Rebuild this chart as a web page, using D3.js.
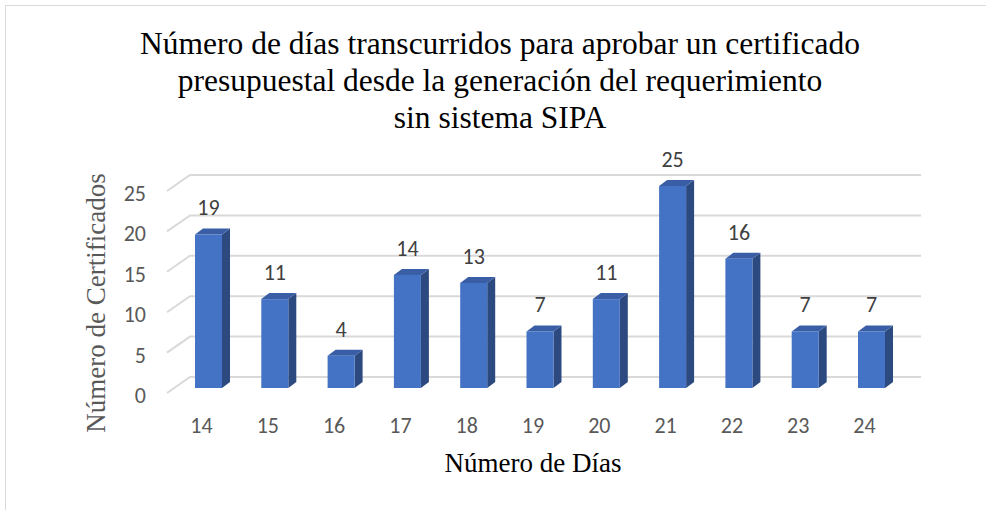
<!DOCTYPE html>
<html>
<head>
<meta charset="utf-8">
<script src="https://cdnjs.cloudflare.com/ajax/libs/d3/7.8.5/d3.min.js"></script>
<style>
  html, body { margin: 0; padding: 0; background: #fff; }
  svg { display: block; }
</style>
</head>
<body>
<svg id="chart"></svg>
<script>
var categories = ["14", "15", "16", "17", "18", "19", "20", "21", "22", "23", "24"];
var values = [19, 11, 4, 14, 13, 7, 11, 25, 16, 7, 7];
var yTicks = [0, 5, 10, 15, 20, 25];
var titleLines = [
    "Número de días transcurridos para aprobar un certificado",
    "presupuestal desde la generación del requerimiento",
    "sin sistema SIPA"
];

var W = 986, H = 510;
var svg = d3.select("#chart").attr("width", W).attr("height", H);

var sansFont = "Carlito, 'Open Sans', 'Liberation Sans', sans-serif";
var serifFont = "'Liberation Serif', 'Times New Roman', serif";

// chart frame (only left and top edges are in view)
svg.append("path")
    .attr("d", "M5.5," + H + "V5.5H" + W)
    .attr("fill", "none")
    .attr("stroke", "#d9d9d9")
    .attr("stroke-width", 1);

// back wall scale
var y = d3.scaleLinear().domain([0, 25]).range([377, 175]);
var x = d3.scalePoint().domain(categories).range([208.5, 871.5]);

var wallLeft = 190, wallRight = 921;
var floorDx = -23, floorDy = 16;   // back wall -> front edge
var barW = 27, sideDx = 8, sideDy = -6, barOffset = 11;

// gridlines
var grid = svg.append("g");
yTicks.forEach(function (t) {
    grid.append("path")
        .attr("d", "M" + (wallLeft + floorDx) + "," + (y(t) + floorDy) +
            "L" + wallLeft + "," + y(t) + "H" + wallRight)
        .attr("fill", "none")
        .attr("stroke", "#d9d9d9")
        .attr("stroke-width", 2);
});

// y tick labels
svg.selectAll(".ytick")
    .data(yTicks)
    .enter().append("text")
    .attr("class", "ytick")
    .attr("x", 146)
    .attr("y", function (d) { return y(d) + floorDy + 10; })
    .attr("text-anchor", "end")
    .attr("font-family", sansFont)
    .attr("font-size", 22)
    .attr("fill", "#595959")
    .text(function (d) { return d; });

// bars
var bars = svg.selectAll(".bar")
    .data(values)
    .enter().append("g")
    .attr("class", "bar");

function fy(v) { return y(v) + barOffset; }

bars.append("path")
    .attr("fill", "#2c4a80")
    .attr("d", function (d, i) {
        var x1 = x(categories[i]) + barW / 2, top = fy(d), bot = fy(0);
        return "M" + x1 + "," + top + "L" + (x1 + sideDx) + "," + (top + sideDy) +
            "L" + (x1 + sideDx) + "," + (bot + sideDy) + "L" + x1 + "," + bot + "Z";
    });

bars.append("path")
    .attr("fill", "#3a5ea6")
    .attr("d", function (d, i) {
        var x0 = x(categories[i]) - barW / 2, top = fy(d);
        return "M" + x0 + "," + top + "L" + (x0 + sideDx) + "," + (top + sideDy) +
            "L" + (x0 + barW + sideDx) + "," + (top + sideDy) + "L" + (x0 + barW) + "," + top + "Z";
    });

bars.append("rect")
    .attr("x", function (d, i) { return x(categories[i]) - barW / 2; })
    .attr("y", function (d) { return fy(d); })
    .attr("width", barW)
    .attr("height", function (d) { return fy(0) - fy(d); })
    .attr("fill", "#4472c4");

// value labels
svg.selectAll(".val")
    .data(values)
    .enter().append("text")
    .attr("class", "val")
    .attr("x", function (d, i) { return x(categories[i]); })
    .attr("y", function (d) { return fy(d) - 19; })
    .attr("text-anchor", "middle")
    .attr("font-family", sansFont)
    .attr("font-size", 22)
    .attr("fill", "#404040")
    .text(function (d) { return d; });

// category labels
svg.selectAll(".xtick")
    .data(categories)
    .enter().append("text")
    .attr("class", "xtick")
    .attr("x", function (d) { return x(d) - 7; })
    .attr("y", 433)
    .attr("text-anchor", "middle")
    .attr("font-family", sansFont)
    .attr("font-size", 22)
    .attr("fill", "#595959")
    .text(function (d) { return d; });

// title
svg.append("text")
    .attr("y", 54)
    .attr("text-anchor", "middle")
    .attr("font-family", serifFont)
    .attr("font-size", 31.5)
    .attr("fill", "#000")
    .selectAll("tspan")
    .data(titleLines)
    .enter().append("tspan")
    .attr("x", 500)
    .attr("dy", function (d, i) { return i === 0 ? 0 : 37; })
    .text(function (d) { return d; });

// axis titles
svg.append("text")
    .attr("transform", "translate(105,303) rotate(-90)")
    .attr("text-anchor", "middle")
    .attr("font-family", serifFont)
    .attr("font-size", 27)
    .attr("fill", "#595959")
    .text("Número de Certificados");

svg.append("text")
    .attr("x", 533)
    .attr("y", 472)
    .attr("text-anchor", "middle")
    .attr("font-family", serifFont)
    .attr("font-size", 27)
    .attr("fill", "#000")
    .text("Número de Días");
</script>
</body>
</html>
